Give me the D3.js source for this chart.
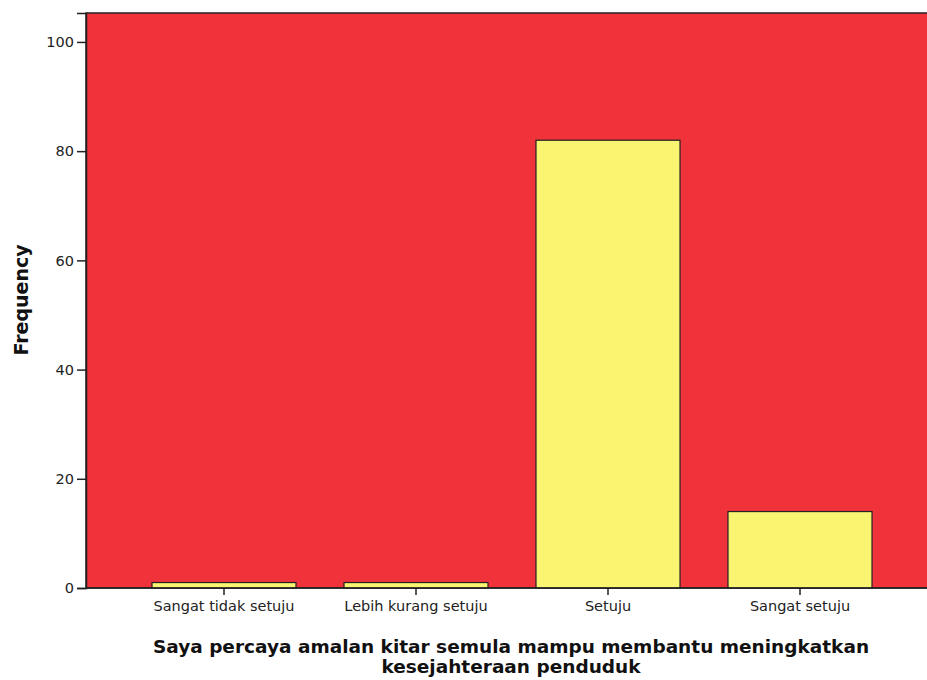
<!DOCTYPE html>
<html><head><meta charset="utf-8">
<script src="https://cdn.jsdelivr.net/npm/d3@7"></script>
<style>body{margin:0;background:#fff}svg{display:block}</style>
</head><body>
<svg id="c" width="927" height="680"></svg>
<script>
const categories = ["Sangat tidak setuju", "Lebih kurang setuju", "Setuju", "Sangat setuju"];
const frequencies = [1, 1, 82, 14];
const yTicks = [0, 20, 40, 60, 80, 100];
const xTitle = ["Saya percaya amalan kitar semula mampu membantu meningkatkan", "kesejahteraan penduduk"];
const yTitle = "Frequency";

const svg = d3.select("#c");
const L = 86, R = 927, T = 13, B = 588;
const x = d3.scaleBand().domain(categories).range([128, 896]).paddingInner(0.25).paddingOuter(0.125);
const y = d3.scaleLinear().domain([0, 105.3]).range([B, T]);
const tickFont = "DejaVu Sans, Verdana, sans-serif";

svg.append("rect").attr("x", L).attr("y", T).attr("width", R - L + 2).attr("height", B - T)
  .attr("fill", "#F0323A").attr("stroke", "#222").attr("stroke-width", 1.5);

svg.selectAll(".bar").data(frequencies).join("rect")
  .attr("x", (d, i) => x(categories[i]))
  .attr("y", d => y(d))
  .attr("width", x.bandwidth())
  .attr("height", d => B - y(d))
  .attr("fill", "#FAF570").attr("stroke", "#222").attr("stroke-width", 1.2);

const ya = svg.append("g").attr("transform", `translate(${L},0)`)
  .call(d3.axisLeft(y).tickValues(yTicks).tickSize(9).tickPadding(3).tickFormat(d3.format("d")));
ya.select(".domain").attr("stroke", "#222").attr("stroke-width", 1.5);
ya.selectAll(".tick line").attr("stroke", "#222").attr("stroke-width", 1.5);
ya.selectAll(".tick text").attr("font-family", tickFont).attr("font-size", 14.5).attr("fill", "#222");

const xa = svg.append("g").attr("transform", `translate(0,${B})`)
  .call(d3.axisBottom(x).tickSize(7).tickPadding(6));
xa.select(".domain").attr("stroke", "#222").attr("stroke-width", 1.5).attr("d", `M${L},0H${R}`);
xa.selectAll(".tick line").attr("stroke", "#222").attr("stroke-width", 1.5);
xa.selectAll(".tick text").attr("font-family", tickFont).attr("font-size", 14.5).attr("fill", "#222");

const titleFont = "DejaVu Sans, Verdana, sans-serif";
svg.append("text").attr("x", 511).attr("y", 653).attr("text-anchor", "middle")
  .attr("font-family", titleFont).attr("font-weight", "bold").attr("font-size", 18.5).attr("fill", "#111")
  .text(xTitle[0]);
svg.append("text").attr("x", 511).attr("y", 673).attr("text-anchor", "middle")
  .attr("font-family", titleFont).attr("font-weight", "bold").attr("font-size", 18.5).attr("fill", "#111")
  .text(xTitle[1]);
svg.append("text").attr("transform", "translate(28,300) rotate(-90)").attr("text-anchor", "middle")
  .attr("font-family", titleFont).attr("font-weight", "bold").attr("font-size", 19).attr("fill", "#111")
  .text(yTitle);
</script>
</body></html>
